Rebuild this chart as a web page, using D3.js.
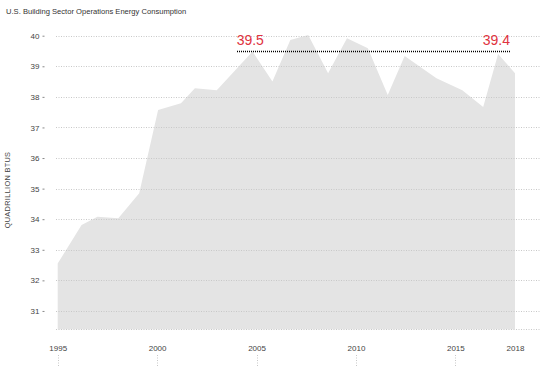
<!DOCTYPE html>
<html lang="en">
<head>
  <meta charset="UTF-8">
  <title>U.S. Building Sector Operations Energy Consumption</title>
  <script src="https://d3js.org/d3.v7.min.js"></script>
  <style>
    body { margin: 0; background: #fff; }
    svg { display: block; font-family: "Liberation Sans", Arial, sans-serif; }
  </style>
</head>
<body>
  <div id="chart"></div>

  <script>
    // Data (year positions, quadrillion Btu)
    const years = [1995, 1996.2, 1997, 1998.05, 1999.1, 2000.05, 2001.2, 2001.9, 2003,
      2004.8, 2005.8, 2006.7, 2007.6, 2008.6, 2009.55, 2010.6, 2011.6, 2012.45,
      2014.05, 2015.35, 2016.4, 2017.15, 2018];
    const consumption = [32.55, 33.81, 34.08, 34.03, 34.85, 37.57, 37.79, 38.28, 38.22,
      39.48, 38.5, 39.86, 40.02, 38.77, 39.92, 39.59, 38.06, 39.34,
      38.61, 38.22, 37.67, 39.4, 38.77];

    const yTicks = [31, 32, 33, 34, 35, 36, 37, 38, 39, 40];
    const xTicks = [1995, 2000, 2005, 2010, 2015, 2018];
    const xTickMarks = [1995, 2000, 2005, 2010, 2015];

    // annotation: dotted line at 39.5 between the two labels
    const refValue = 39.5;
    const refYears = [2004, 2017.75];
    const refLabels = ['39.5', '39.4'];

    const width = 541, height = 367;

    function render() {
      const svg = d3.select('#chart')
        .append('svg')
        .attr('width', width)
        .attr('height', height);

      const x = d3.scaleLinear().domain([1995, 2018]).range([57.7, 515]);
      const y = d3.scaleLinear().domain([30.4, 40]).range([329.3, 35.7]);

      const data = years.map((yr, i) => ({ year: yr, value: consumption[i] }));

      // title
      svg.append('text')
        .attr('x', 6)
        .attr('y', 13.5)
        .attr('fill', '#333')
        .attr('font-size', '7.6px')
        .text('U.S. Building Sector Operations Energy Consumption');

      // area
      const area = d3.area()
        .x(d => x(d.year))
        .y0(y(30.4))
        .y1(d => y(d.value));

      svg.append('path')
        .datum(data)
        .attr('d', area)
        .attr('fill', '#e4e4e4');

      // gridlines (on top of area, faint)
      svg.append('g')
        .selectAll('line')
        .data(yTicks.concat([30.4]))
        .join('line')
        .attr('x1', 56)
        .attr('x2', width)
        .attr('y1', d => Math.round(y(d)) + 0.5)
        .attr('y2', d => Math.round(y(d)) + 0.5)
        .attr('stroke', '#c8c8c8')
        .attr('stroke-width', 1)
        .attr('stroke-dasharray', '1,1.5');

      // y axis
      const yAxis = svg.append('g')
        .attr('transform', 'translate(44.5,0)')
        .call(d3.axisLeft(y).tickValues(yTicks).tickSize(2).tickPadding(3));
      yAxis.select('.domain').remove();
      yAxis.selectAll('line').attr('stroke', '#888');
      yAxis.selectAll('text')
        .attr('fill', '#444')
        .attr('font-size', '8px')
        .attr('font-family', '"Liberation Sans", Arial, sans-serif');

      // y axis title
      svg.append('text')
        .attr('transform', 'translate(10,190) rotate(-90)')
        .attr('text-anchor', 'middle')
        .attr('fill', '#444')
        .attr('font-size', '7.4px')
        .attr('letter-spacing', '0.3px')
        .text('QUADRILLION BTUS');

      // x axis
      const xAxis = svg.append('g')
        .attr('transform', 'translate(0,345)')
        .call(d3.axisBottom(x).tickValues(xTicks).tickFormat(d3.format('d')).tickSize(0).tickPadding(0));
      xAxis.select('.domain').remove();
      xAxis.selectAll('text')
        .attr('fill', '#444')
        .attr('font-size', '8px')
        .attr('font-family', '"Liberation Sans", Arial, sans-serif');

      // dotted tick marks under the year labels
      svg.append('g')
        .selectAll('line')
        .data(xTickMarks)
        .join('line')
        .attr('x1', d => Math.round(x(d)) + 0.5)
        .attr('x2', d => Math.round(x(d)) + 0.5)
        .attr('y1', 355)
        .attr('y2', height)
        .attr('stroke', '#c8c8c8')
        .attr('stroke-dasharray', '1,1.5');

      // reference annotation
      svg.append('line')
        .attr('x1', Math.round(x(refYears[0])))
        .attr('x2', Math.round(x(refYears[1])))
        .attr('y1', Math.round(y(refValue)) + 0.5)
        .attr('y2', Math.round(y(refValue)) + 0.5)
        .attr('stroke', '#000')
        .attr('stroke-width', 1.3)
        .attr('stroke-dasharray', '1,1');

      svg.append('text')
        .attr('x', x(refYears[0]))
        .attr('y', 44.5)
        .attr('fill', '#e03340')
        .attr('font-size', '14px')
        .text(refLabels[0]);

      svg.append('text')
        .attr('x', x(refYears[1]))
        .attr('y', 44.5)
        .attr('text-anchor', 'end')
        .attr('fill', '#e03340')
        .attr('font-size', '14px')
        .text(refLabels[1]);
    }

    render();
  </script>
</body>
</html>
